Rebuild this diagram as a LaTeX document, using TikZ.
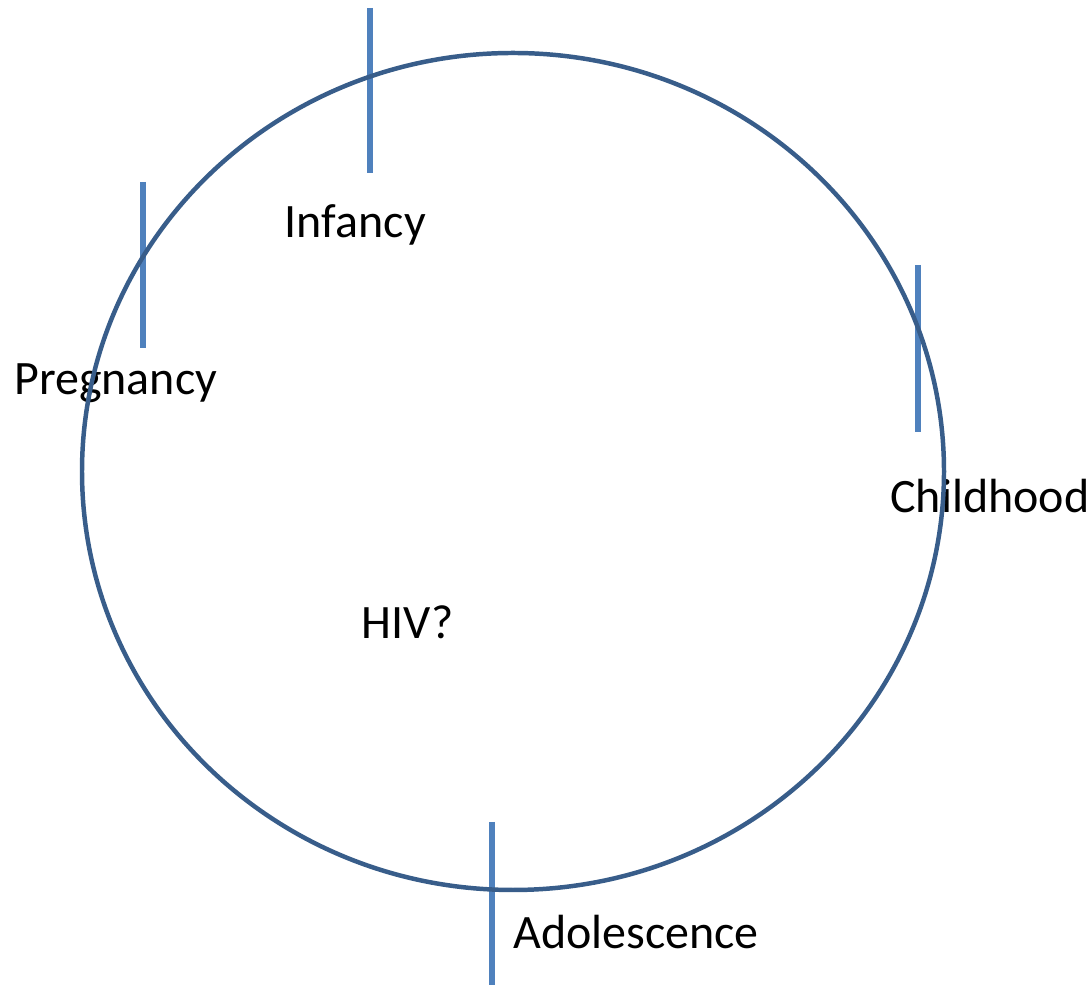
\documentclass[tikz,border=0pt]{standalone}
\usepackage{fontspec}
\setmainfont{Carlito}
\definecolor{tickblue}{HTML}{4F81BD}
\definecolor{ringblue}{HTML}{385D8A}

\begin{document}
\begin{tikzpicture}
            \useasboundingbox (0,0) rectangle (21.8,19.7);
            \tikzset{stage/.style={inner sep=0pt, anchor=base west, font=\fontsize{27.3}{33}\selectfont},
                     tick/.style={draw=tickblue, line width=3.1pt}}

            \coordinate (centre) at (10.26,10.27);
            \coordinate (inftop) at (7.40,19.54);
            \coordinate (infbot) at (7.40,16.24);
            \coordinate (pretop) at (2.86,16.06);
            \coordinate (prebot) at (2.86,12.74);
            \coordinate (chitop) at (18.36,14.40);
            \coordinate (chibot) at (18.36,11.06);
            \coordinate (adotop) at (9.84,3.26);
            \coordinate (adobot) at (9.84,0);

            \draw[tick] (inftop) -- (infbot);
            \draw[tick] (pretop) -- (prebot);
            \draw[tick] (chitop) -- (chibot);
            \draw[tick] (adotop) -- (adobot);

            \node[stage] (infancy) at (5.69,14.94) {Infancy};
            \node[stage] (pregnancy) at (0.28,11.80) {Pregnancy};
            \node[stage] (childhood) at (17.80,9.44) {Childhood};
            \node[stage] (adolescence) at (10.26,0.72) {Adolescence};
            \node[stage] (hiv) at (7.23,6.92) {HIV?};

            \draw[ringblue, line width=2.55pt] (centre) ellipse (8.62 and 8.37);
        \end{tikzpicture}
\end{document}
